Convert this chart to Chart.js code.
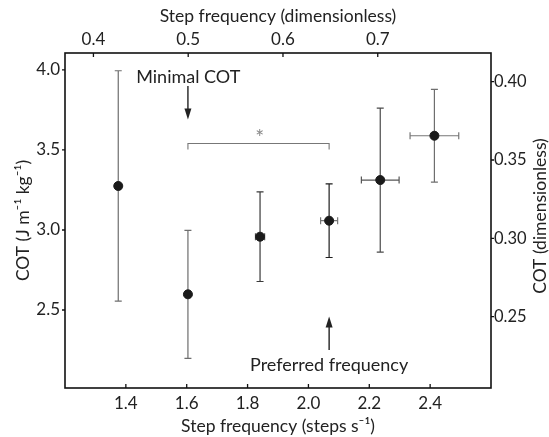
<!DOCTYPE html>
<html>
<head>
<meta charset="utf-8">
<script src="https://cdn.jsdelivr.net/npm/chart.js@4.4.0/dist/chart.umd.min.js"></script>
<style>
  html, body { margin: 0; padding: 0; background: #fff; }
</style>
</head>
<body>
<canvas id="cot" width="549" height="437"></canvas>
<script>
// step frequency (steps s-1) and its sd
var freq    = [1.375, 1.604, 1.841, 2.068, 2.236, 2.414];
var freqErr = [0.008, 0.008, 0.015, 0.028, 0.062, 0.080];
// cost of transport (J m-1 kg-1) and its sd
var cot     = [3.275, 2.598, 2.958, 3.058, 3.312, 3.589];
var cotErr  = [0.720, 0.400, 0.280, 0.230, 0.450, 0.290];

// tick labels
var bottomTicks = [1.4, 1.6, 1.8, 2.0, 2.2, 2.4];
var topTicks    = [0.4, 0.5, 0.6, 0.7];
var leftTicks   = [2.5, 3.0, 3.5, 4.0];
var rightTicks  = [0.25, 0.30, 0.35, 0.40];

// significance bracket (between min COT and preferred freq)
var bracketFrom = 1.604, bracketTo = 2.068, bracketLevel = 3.54;

var FONT = 'Lato, "Open Sans", sans-serif';
var TXT = '#222';
var vColor = ['#6e6e6e', '#6e6e6e', '#3a3a3a', '#1e1e1e', '#4a4a4a', '#6e6e6e'];
var hColor = ['#6e6e6e', '#6e6e6e', '#555', '#777', '#555', '#777'];

function fixedTicks(list) {
  return function(s) { s.ticks = list.map(function(v) { return {value: v}; }); };
}

function arrow(ctx, x, y0, y1) {
  // line from y0 to y1, head at y1
  var dir = y1 > y0 ? 1 : -1;
  ctx.beginPath();
  ctx.moveTo(x, y0);
  ctx.lineTo(x, y1 - dir * 8);
  ctx.stroke();
  ctx.beginPath();
  ctx.moveTo(x, y1);
  ctx.lineTo(x - 3.5, y1 - dir * 11);
  ctx.lineTo(x + 3.5, y1 - dir * 11);
  ctx.closePath();
  ctx.fill();
}

var errorBars = {
  id: 'errorBars',
  beforeDatasetsDraw: function(chart) {
    var ctx = chart.ctx, x = chart.scales.x, y = chart.scales.y;
    ctx.save();
    ctx.lineWidth = 1.2;
    freq.forEach(function(f, i) {
      var px = x.getPixelForValue(f), py = y.getPixelForValue(cot[i]);
      var yt = y.getPixelForValue(cot[i] + cotErr[i]);
      var yb = y.getPixelForValue(cot[i] - cotErr[i]);
      var xl = x.getPixelForValue(f - freqErr[i]);
      var xr = x.getPixelForValue(f + freqErr[i]);
      ctx.strokeStyle = vColor[i];
      ctx.beginPath();
      ctx.moveTo(px, yt); ctx.lineTo(px, yb);
      ctx.moveTo(px - 3.5, yt); ctx.lineTo(px + 3.5, yt);
      ctx.moveTo(px - 3.5, yb); ctx.lineTo(px + 3.5, yb);
      ctx.stroke();
      ctx.strokeStyle = hColor[i];
      ctx.beginPath();
      ctx.moveTo(xl, py); ctx.lineTo(xr, py);
      ctx.moveTo(xl, py - 3.5); ctx.lineTo(xl, py + 3.5);
      ctx.moveTo(xr, py - 3.5); ctx.lineTo(xr, py + 3.5);
      ctx.stroke();
    });
    ctx.restore();
  }
};

var decorations = {
  id: 'decorations',
  afterDraw: function(chart) {
    var ctx = chart.ctx, a = chart.chartArea;
    var s = chart.scales;
    ctx.save();
    // frame
    ctx.strokeStyle = '#111';
    ctx.lineWidth = 1.6;
    ctx.strokeRect(a.left, a.top, a.right - a.left, a.bottom - a.top);
    // ticks
    ctx.lineWidth = 1.3;
    ctx.beginPath();
    s.x.ticks.forEach(function(t) {
      var px = s.x.getPixelForValue(t.value);
      ctx.moveTo(px, a.bottom); ctx.lineTo(px, a.bottom - 4);
    });
    s.x2.ticks.forEach(function(t) {
      var px = s.x2.getPixelForValue(t.value);
      ctx.moveTo(px, a.top); ctx.lineTo(px, a.top + 4);
    });
    s.y.ticks.forEach(function(t) {
      var py = s.y.getPixelForValue(t.value);
      ctx.moveTo(a.left, py); ctx.lineTo(a.left - 3, py);
    });
    s.y2.ticks.forEach(function(t) {
      var py = s.y2.getPixelForValue(t.value);
      ctx.moveTo(a.right, py); ctx.lineTo(a.right + 3, py);
    });
    ctx.stroke();

    // significance bracket
    var bx0 = s.x.getPixelForValue(bracketFrom), bx1 = s.x.getPixelForValue(bracketTo);
    var by = s.y.getPixelForValue(bracketLevel);
    ctx.strokeStyle = '#777';
    ctx.lineWidth = 1.1;
    ctx.beginPath();
    ctx.moveTo(bx0, by + 6); ctx.lineTo(bx0, by); ctx.lineTo(bx1, by); ctx.lineTo(bx1, by + 6);
    ctx.stroke();
    ctx.fillStyle = '#888';
    ctx.font = '21px ' + FONT;
    ctx.textAlign = 'center';
    ctx.textBaseline = 'middle';
    ctx.fillText('*', s.x.getPixelForValue(1.84), by - 5);

    // annotations
    ctx.fillStyle = TXT;
    ctx.strokeStyle = '#111';
    ctx.lineWidth = 1.3;
    ctx.font = '18px ' + FONT;
    ctx.textAlign = 'left';
    ctx.fillText('Minimal COT', s.x.getPixelForValue(1.434), s.y.getPixelForValue(3.956));
    arrow(ctx, s.x.getPixelForValue(1.604), s.y.getPixelForValue(3.90), s.y.getPixelForValue(3.69));
    ctx.textAlign = 'center';
    ctx.fillText('Preferred frequency', s.x.getPixelForValue(2.068), s.y.getPixelForValue(2.156));
    arrow(ctx, s.x.getPixelForValue(2.068), s.y.getPixelForValue(2.25), s.y.getPixelForValue(2.46));

    // right axis title, reading upward
    ctx.save();
    ctx.font = '17.5px ' + FONT;
    ctx.translate(540, 216);
    ctx.rotate(-Math.PI / 2);
    ctx.textAlign = 'center';
    ctx.textBaseline = 'middle';
    ctx.fillText('COT (dimensionless)', 0, 0);
    ctx.restore();
    ctx.restore();
  }
};

var tickFont = {family: FONT, size: 17};
var titleFont = {family: FONT, size: 17.5};

var ctx1 = document.getElementById('cot');
var myChart = new Chart(ctx1, {
  type: 'scatter',
  data: {
    datasets: [{
      data: freq.map(function(f, i) { return {x: f, y: cot[i]}; }),
      backgroundColor: '#1a1a1a',
      borderColor: '#1a1a1a',
      pointRadius: 4.5,
      pointHoverRadius: 4.5
    }]
  },
  options: {
    responsive: false,
    animation: false,
    layout: { padding: 0 },
    plugins: { legend: { display: false }, tooltip: { enabled: false } },
    scales: {
      x: {
        type: 'linear', position: 'bottom', min: 1.2, max: 2.6,
        afterBuildTicks: fixedTicks(bottomTicks),
        afterFit: function(sc) { sc.height = 49; },
        grid: { display: false, drawTicks: false }, border: { display: false },
        ticks: { font: tickFont, color: TXT, padding: 5, maxRotation: 0,
                 callback: function(v) { return v.toFixed(1); } },
        title: { display: true, text: 'Step frequency (steps s\u207B\u00B9)', font: titleFont, color: TXT, padding: 0 }
      },
      x2: {
        type: 'linear', position: 'top', min: 0.370, max: 0.8195,
        afterBuildTicks: fixedTicks(topTicks),
        afterFit: function(sc) { sc.height = 53; },
        grid: { display: false, drawTicks: false }, border: { display: false },
        ticks: { font: tickFont, color: TXT, padding: 3, maxRotation: 0,
                 callback: function(v) { return v.toFixed(1); } },
        title: { display: true, text: 'Step frequency (dimensionless)', font: titleFont, color: TXT, padding: { top: 6 } }
      },
      y: {
        type: 'linear', position: 'left', min: 2.0125, max: 4.106,
        afterBuildTicks: fixedTicks(leftTicks),
        afterFit: function(sc) { sc.width = 65; },
        grid: { display: false, drawTicks: false }, border: { display: false },
        ticks: { font: tickFont, color: TXT, padding: 5,
                 callback: function(v) { return v.toFixed(1); } },
        title: { display: true, text: 'COT (J m\u207B\u00B9 kg\u207B\u00B9)', font: titleFont, color: TXT, padding: { top: 13 } }
      },
      y2: {
        type: 'linear', position: 'right', min: 0.2045, max: 0.4183,
        afterBuildTicks: fixedTicks(rightTicks),
        afterFit: function(sc) { sc.width = 58; },
        grid: { display: false, drawTicks: false }, border: { display: false },
        ticks: { font: {family: FONT, size: 16.5}, color: TXT, padding: 3,
                 callback: function(v) { return v.toFixed(2); } }
      }
    }
  },
  plugins: [errorBars, decorations]
});
</script>
</body>
</html>
